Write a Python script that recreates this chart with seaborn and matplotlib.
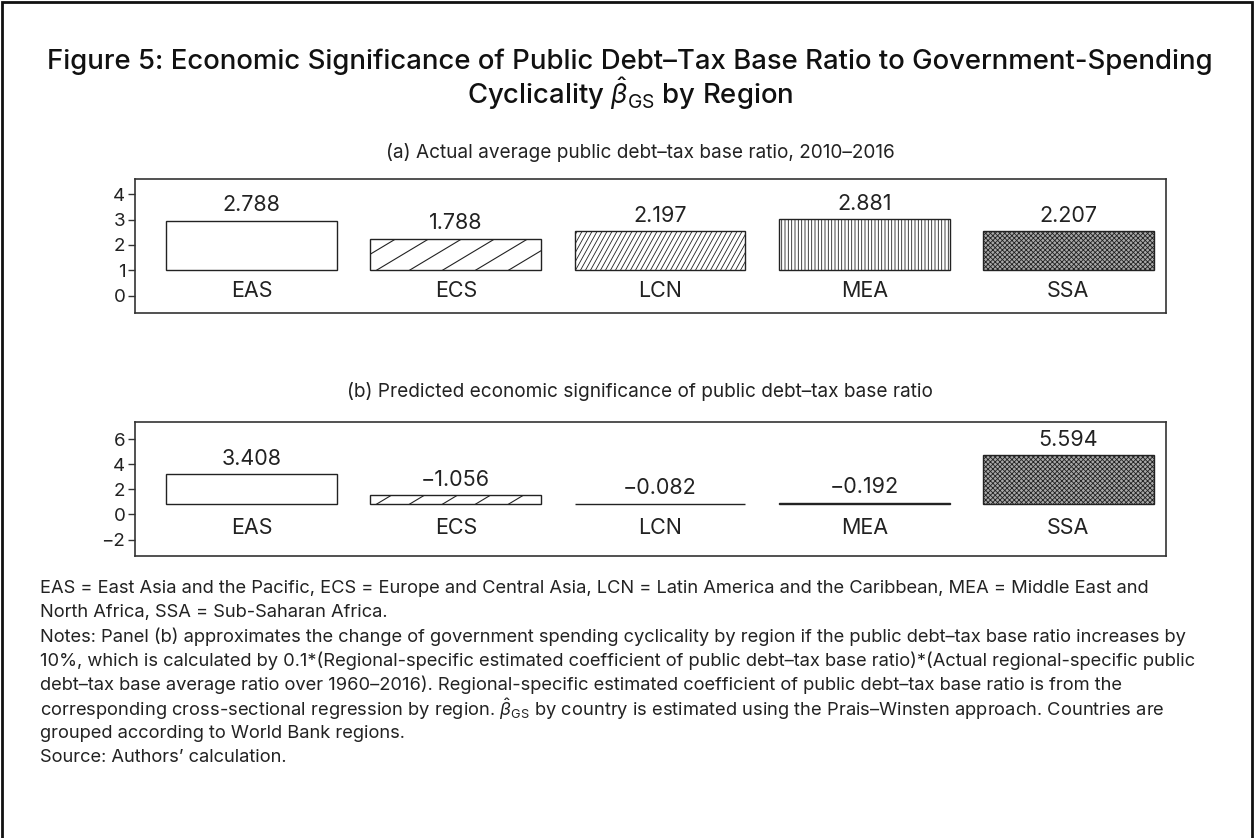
import matplotlib
matplotlib.use("Agg")
import matplotlib.pyplot as plt
from matplotlib.patches import Rectangle
from matplotlib.lines import Line2D
from matplotlib.transforms import IdentityTransform
import numpy as np
import seaborn as sns
import pandas as pd

# ---- data -------------------------------------------------------------
regions = ["EAS", "ECS", "LCN", "MEA", "SSA"]
actual_ratio = [2.788, 1.788, 2.197, 2.881, 2.207]               # panel (a)
predicted_significance = [3.408, -1.056, -0.082, -0.192, 5.594]  # panel (b)

ticks_a = [0, 1, 2, 3, 4]
ticks_b = [-2, 0, 2, 4, 6]

title_lines = [
    "Figure 5: Economic Significance of Public Debt\u2013Tax Base Ratio to Government-Spending",
    "Cyclicality $\\hat{\\beta}_{\\mathrm{GS}}$ by Region",
]
subtitle_a = "(a) Actual average public debt\u2013tax base ratio, 2010\u20132016"
subtitle_b = "(b) Predicted economic significance of public debt\u2013tax base ratio"

note_lines = [
    "EAS = East Asia and the Pacific, ECS = Europe and Central Asia, LCN = Latin America and the Caribbean, MEA = Middle East and",
    "North Africa, SSA = Sub-Saharan Africa.",
    "Notes: Panel (b) approximates the change of government spending cyclicality by region if the public debt\u2013tax base ratio increases by",
    "10%, which is calculated by 0.1*(Regional-specific estimated coefficient of public debt\u2013tax base ratio)*(Actual regional-specific public",
    "debt\u2013tax base average ratio over 1960\u20132016). Regional-specific estimated coefficient of public debt\u2013tax base ratio is from the",
    "corresponding cross-sectional regression by region. $\\hat{\\beta}_{\\mathrm{GS}}$ by country is estimated using the Prais\u2013Winsten approach. Countries are",
    "grouped according to World Bank regions.",
    "Source: Authors\u2019 calculation.",
]

# ---- style ------------------------------------------------------------
sns.set_theme(style="white")
FONT = ["Inter", "DejaVu Sans"]
plt.rcParams["font.family"] = FONT
plt.rcParams["mathtext.fontset"] = "custom"
plt.rcParams["mathtext.rm"] = "Inter"
plt.rcParams["mathtext.it"] = "Inter:italic"
plt.rcParams["mathtext.bf"] = "Inter:bold"
plt.rcParams["hatch.linewidth"] = 0.6
plt.rcParams["hatch.color"] = "#222222"

INK = "#222222"
hatches = ["", None, None, "|||||", "xxxxxxx"]
faces = ["white", "white", "white", "white", "#a8a8a8"]
# slope, horizontal spacing (px) and width of the line fills drawn by hand
line_fills = {1: (0.6, 33.0, 0.8), 2: (1.8, 5.0, 0.6)}

BAR_SCALE = 0.7   # bar length per unit of the stated value
BAR_WIDTH = 0.836

fig = plt.figure(figsize=(12.55, 8.38), dpi=100)
W, H = 1255, 838


def px_axes(left, top, right, bottom):
    return fig.add_axes([left / W, 1 - bottom / H, (right - left) / W, (bottom - top) / H])


def line_fill(ax, patch, slope, spacing, lw):
    """Parallel lines clipped to a bar, in pixel space."""
    bb = patch.get_window_extent()
    x0, x1, y0, y1 = bb.x0, bb.x1, bb.y0, bb.y1
    w = x1 - x0
    step = spacing * slope
    for c in np.arange(-slope * w, (y1 - y0) + step, step):
        ln = Line2D([x0, x1], [y0 + c, y0 + c + slope * w],
                    transform=IdentityTransform(), color=INK, lw=lw)
        ax.add_artist(ln)
        ln.set_clip_box(None)
        ln.set_clip_path(patch.get_path(), patch.get_transform())


def draw_panel(ax, values, base, ylim, ticks, cat_y):
    df = pd.DataFrame({"region": regions,
                       "length": [BAR_SCALE * abs(v) for v in values]})
    sns.barplot(data=df, x="region", y="length", hue="region", palette=faces,
                legend=False, width=BAR_WIDTH, edgecolor=INK, linewidth=1.0,
                ax=ax, saturation=1)
    ax.set_xlim(-0.571, 4.478)
    ax.set_ylim(*ylim)
    for patch, hatch, v in zip(ax.patches, hatches, values):
        patch.set_y(base)
        if hatch:
            patch.set_hatch(hatch)
        top = base + patch.get_height()
        ax.annotate(f"{v:.3f}".replace("-", "\u2212"),
                    (patch.get_x() + patch.get_width() / 2, top),
                    xytext=(0, 4), textcoords="offset points",
                    ha="center", va="bottom", fontsize=15.5, color=INK)
    for i, patch in enumerate(list(ax.patches)):
        if i in line_fills and patch.get_height() > 0.2:
            line_fill(ax, patch, *line_fills[i])
    for i, r in enumerate(regions):
        ax.text(i, cat_y, r, ha="center", va="center", fontsize=15.5, color=INK)
    ax.set_yticks(ticks)
    ax.set_xticks([])
    ax.set_xlabel("")
    ax.set_ylabel("")
    ax.tick_params(axis="y", left=True, length=5, width=1, color="#333333",
                   labelsize=13.5, labelcolor=INK, pad=2)
    for s in ax.spines.values():
        s.set_visible(True)
        s.set_color("#333333")
        s.set_linewidth(1.2)


ax_a = px_axes(135, 179, 1166, 313)
draw_panel(ax_a, actual_ratio, 1.0, (-0.67, 4.59), ticks_a, 0.2)

ax_b = px_axes(135, 422, 1166, 556)
draw_panel(ax_b, predicted_significance, 0.8, (-3.31, 7.36), ticks_b, -1.05)

# ---- titles -----------------------------------------------------------
fig.text(630 / W, 1 - 62 / H, title_lines[0], ha="center", va="center",
         fontsize=19.8, fontweight="medium", color="#111111")
fig.text(630 / W, 1 - 94 / H, title_lines[1], ha="center", va="center",
         fontsize=19.8, fontweight="medium", color="#111111")
fig.text(640 / W, 1 - 153 / H, subtitle_a, ha="center", va="center",
         fontsize=13.7, color=INK)
fig.text(640 / W, 1 - 391 / H, subtitle_b, ha="center", va="center",
         fontsize=13.7, color=INK)

# ---- notes ------------------------------------------------------------
for k, line in enumerate(note_lines):
    fig.text(40 / W, 1 - (588 + 24.2 * k) / H, line, ha="left", va="center",
             fontsize=13.2, color=INK)

# outer frame
fig.patches.append(Rectangle((2 / W, -0.2), 1250 / W, 1.2 - 2 / H,
                             transform=fig.transFigure, fill=False,
                             edgecolor="#111111", linewidth=2))

fig.savefig("out.png", dpi=100, facecolor="white")
